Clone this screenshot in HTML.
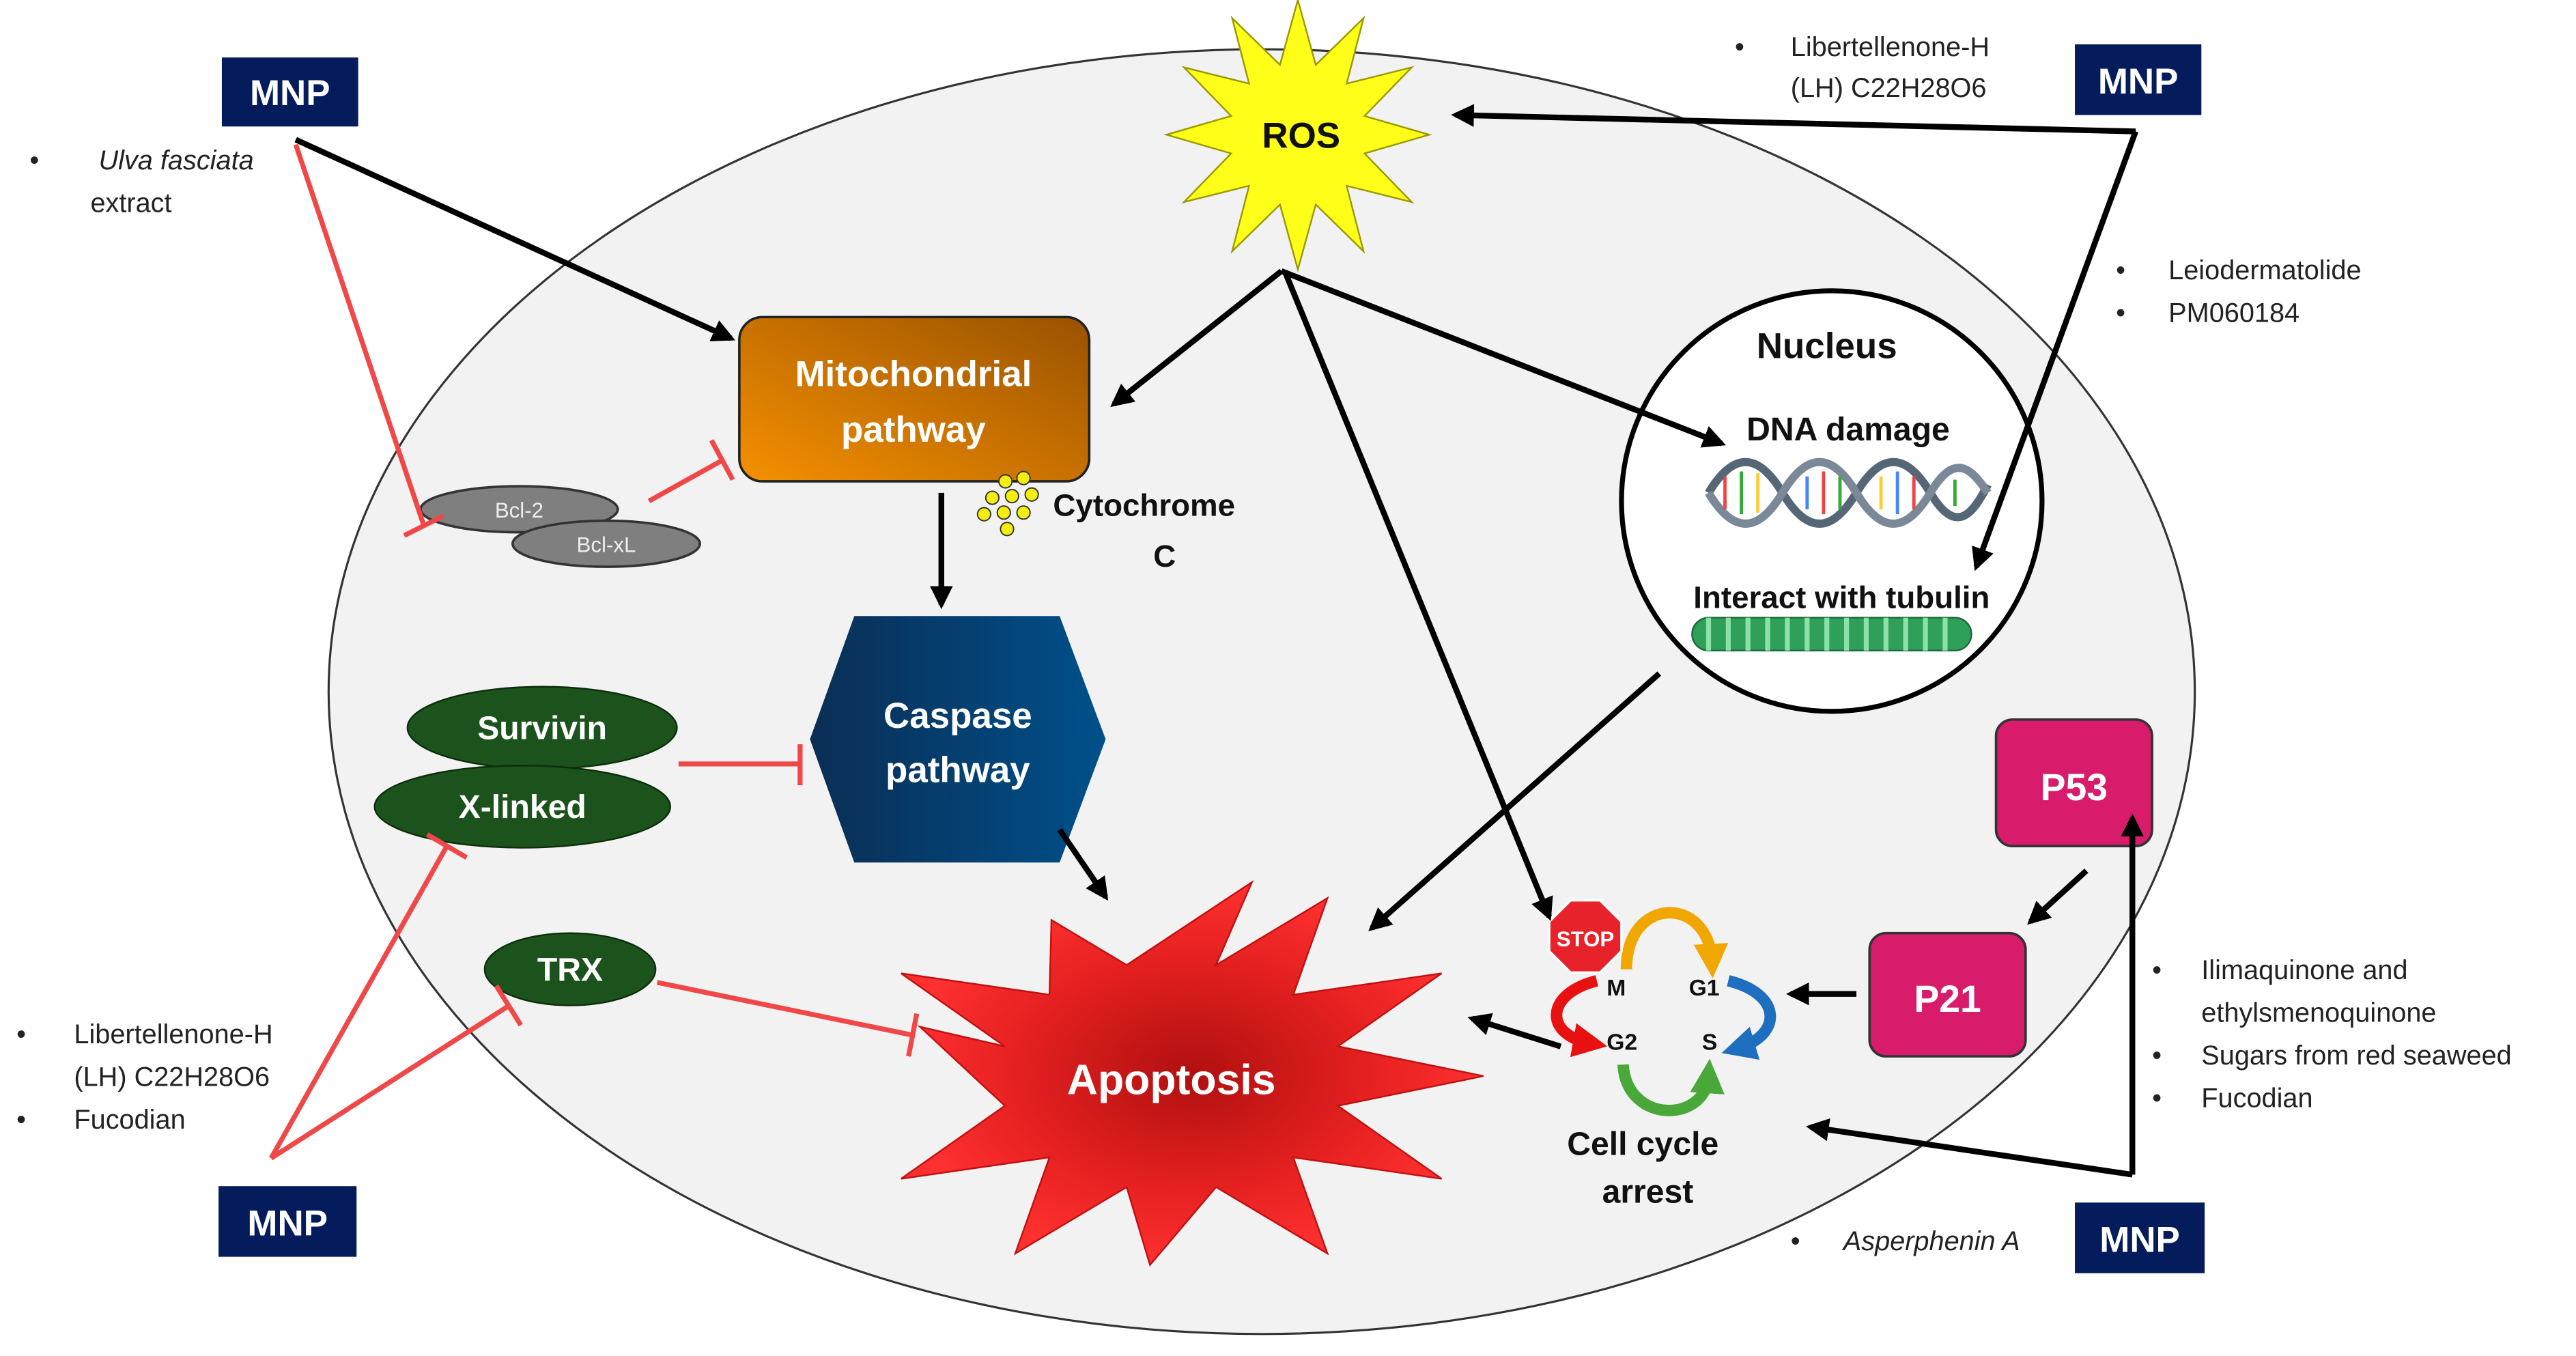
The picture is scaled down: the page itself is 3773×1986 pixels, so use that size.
<!DOCTYPE html>
<html><head><meta charset="utf-8"><style>
html,body{margin:0;padding:0;background:#fff;}
svg{display:block;}
text{font-family:"Liberation Sans",sans-serif;}
</style></head><body>
<svg width="3773" height="1986" viewBox="0 0 1568 825.4" xmlns="http://www.w3.org/2000/svg">
<defs>
<marker id="ah" viewBox="0 0 10 10" refX="8" refY="5" markerWidth="4" markerHeight="4" orient="auto"><path d="M0,0L10,5L0,10z" fill="#000"/></marker>
<marker id="ahO" viewBox="0 0 10 10" refX="5" refY="5" markerWidth="3" markerHeight="3" orient="auto"><path d="M0,0L10,5L0,10z" fill="#f0a800"/></marker>
<marker id="ahB" viewBox="0 0 10 10" refX="5" refY="5" markerWidth="3" markerHeight="3" orient="auto"><path d="M0,0L10,5L0,10z" fill="#1f6fc0"/></marker>
<marker id="ahG" viewBox="0 0 10 10" refX="5" refY="5" markerWidth="3" markerHeight="3" orient="auto"><path d="M0,0L10,5L0,10z" fill="#4aa83a"/></marker>
<marker id="ahR" viewBox="0 0 10 10" refX="5" refY="5" markerWidth="3" markerHeight="3" orient="auto"><path d="M0,0L10,5L0,10z" fill="#e81010"/></marker>
<linearGradient id="mito" x1="0" y1="1" x2="1" y2="0"><stop offset="0" stop-color="#f59000"/><stop offset="1" stop-color="#9a5200"/></linearGradient>
<linearGradient id="casp" x1="0" y1="0" x2="1" y2="0"><stop offset="0" stop-color="#0a2e55"/><stop offset="1" stop-color="#00508a"/></linearGradient>
<radialGradient id="apo" cx="0.5" cy="0.5" r="0.5"><stop offset="0" stop-color="#b01010"/><stop offset="0.6" stop-color="#e52020"/><stop offset="1" stop-color="#ff3030"/></radialGradient>
</defs>

<ellipse cx="768" cy="421" rx="568" ry="391" fill="#f2f2f2" stroke="#333" stroke-width="1.3"/>

<g font-weight="bold" fill="#fff" font-size="22" text-anchor="middle">
<rect x="135" y="35" width="83" height="42" fill="#041c5c"/><text x="176.5" y="64" fill="#fff">MNP</text>
<rect x="1263" y="27" width="77" height="43" fill="#041c5c"/><text x="1301.5" y="57" fill="#fff">MNP</text>
<rect x="133" y="722" width="84" height="43" fill="#041c5c"/><text x="175" y="752" fill="#fff">MNP</text>
<rect x="1263" y="732" width="79" height="43" fill="#041c5c"/><text x="1302.5" y="762" fill="#fff">MNP</text>
</g>

<g font-size="16.5" fill="#222">
<text x="18" y="103">•</text><text x="60" y="103" font-style="italic">Ulva fasciata</text>
<text x="55" y="129">extract</text>
<text x="1056" y="34">•</text><text x="1090" y="34">Libertellenone-H</text>
<text x="1090" y="59">(LH) C22H28O6</text>
<text x="1288" y="170">•</text><text x="1320" y="170">Leiodermatolide</text>
<text x="1288" y="196">•</text><text x="1320" y="196">PM060184</text>
<text x="10" y="635">•</text><text x="45" y="635">Libertellenone-H</text>
<text x="45" y="661">(LH) C22H28O6</text>
<text x="10" y="687">•</text><text x="45" y="687">Fucodian</text>
<text x="1310" y="596">•</text><text x="1340" y="596">Ilimaquinone and</text>
<text x="1340" y="622">ethylsmenoquinone</text>
<text x="1310" y="648">•</text><text x="1340" y="648">Sugars from red seaweed</text>
<text x="1310" y="674">•</text><text x="1340" y="674">Fucodian</text>
<text x="1090" y="761">•</text><text x="1122" y="761" font-style="italic">Asperphenin A</text>
</g>

<ellipse cx="316" cy="310" rx="60" ry="14" fill="#7f7f7f" stroke="#333" stroke-width="1.5"/>
<ellipse cx="369" cy="331" rx="57" ry="14" fill="#7f7f7f" stroke="#333" stroke-width="1.5"/>
<text x="316" y="315" font-size="13" fill="#eee" text-anchor="middle">Bcl-2</text>
<text x="369" y="336" font-size="13" fill="#eee" text-anchor="middle">Bcl-xL</text>

<rect x="450" y="193" width="213" height="100" rx="14" fill="url(#mito)" stroke="#222" stroke-width="1.5"/>
<text x="556" y="235" font-size="22" font-weight="bold" fill="#fff" text-anchor="middle">Mitochondrial</text>
<text x="556" y="269" font-size="22" font-weight="bold" fill="#fff" text-anchor="middle">pathway</text>
<g fill="#f3ee10" stroke="#333" stroke-width="0.8">
<circle cx="612" cy="293" r="4"/><circle cx="623" cy="291" r="4"/><circle cx="604" cy="303" r="4"/><circle cx="616" cy="302" r="4"/><circle cx="628" cy="301" r="4"/><circle cx="599" cy="313" r="4"/><circle cx="611" cy="312" r="4"/><circle cx="623" cy="312" r="4"/><circle cx="613" cy="322" r="4"/>
</g>
<text x="641" y="314" font-size="19" font-weight="bold" fill="#111">Cytochrome</text>
<text x="702" y="345" font-size="19" font-weight="bold" fill="#111">C</text>

<polygon points="520,375 645,375 673,450 645,525 520,525 493,450" fill="url(#casp)"/>
<text x="583" y="443" font-size="22" font-weight="bold" fill="#fff" text-anchor="middle">Caspase</text>
<text x="583" y="476" font-size="22" font-weight="bold" fill="#fff" text-anchor="middle">pathway</text>

<ellipse cx="330" cy="443" rx="82" ry="25" fill="#1c531c" stroke="#0d2e0d" stroke-width="1"/>
<ellipse cx="318" cy="491" rx="90" ry="25" fill="#1c531c" stroke="#0d2e0d" stroke-width="1"/>
<ellipse cx="347" cy="590" rx="52" ry="22" fill="#1c531c" stroke="#0d2e0d" stroke-width="1"/>
<g font-size="20" font-weight="bold" fill="#fff" text-anchor="middle">
<text x="330" y="450" fill="#fff">Survivin</text>
<text x="318" y="498" fill="#fff">X-linked</text>
<text x="347" y="597" fill="#fff">TRX</text>
</g>

<polygon points="903,655 814.4,636.9 877.5,592.5 787.2,605.5 808,546.7 740.2,587.4 762,537 685.8,587.4 640,560 638.8,605.5 548.5,592.5 611.6,636.9 560,625 611.6,673.1 548.5,717.5 638.8,704.5 618,763 685.8,722.6 700,770 740.2,722.6 808,763 787.2,704.5 877.5,717.5 814.4,673.1" fill="url(#apo)" stroke="#c01010" stroke-width="1"/>
<text x="713" y="666" font-size="26" font-weight="bold" fill="#fff" text-anchor="middle">Apoptosis</text>

<polygon points="870,82 830.6,70.6 859.3,41 819.7,50.9 830,11 800.9,39.5 790,0 779.1,39.5 750,11 760.3,50.9 720.7,41 749.4,70.6 710,82 749.4,93.4 720.7,123 760.3,113.1 750,153 779.1,124.5 790,164 800.9,124.5 830,153 819.7,113.1 859.3,123 830.6,93.4" fill="#ffff1a" stroke="#999900" stroke-width="1"/>
<text x="792" y="90" font-size="22" font-weight="bold" fill="#111" text-anchor="middle">ROS</text>

<circle cx="1115" cy="305" r="128" fill="#fff" stroke="#000" stroke-width="3"/>
<text x="1112" y="218" font-size="22" font-weight="bold" fill="#111" text-anchor="middle">Nucleus</text>
<text x="1125" y="268" font-size="20" font-weight="bold" fill="#111" text-anchor="middle">DNA damage</text>
<path d="M1040,300 C1055,275 1070,275 1085,300 S1115,325 1130,300 S1160,275 1175,300 S1200,315 1210,295" stroke="#556677" stroke-width="5" fill="none"/>
<path d="M1040,300 C1055,325 1070,325 1085,300 S1115,275 1130,300 S1160,325 1175,300 S1200,285 1210,300" stroke="#7a8898" stroke-width="5" fill="none"/>
<g stroke-width="2">
<line x1="1050" y1="290" x2="1050" y2="310" stroke="#e44"/><line x1="1060" y1="287" x2="1060" y2="313" stroke="#3a3"/><line x1="1070" y1="288" x2="1070" y2="312" stroke="#fc3"/><line x1="1100" y1="290" x2="1100" y2="310" stroke="#48f"/><line x1="1110" y1="287" x2="1110" y2="313" stroke="#e44"/><line x1="1120" y1="290" x2="1120" y2="310" stroke="#3a3"/><line x1="1145" y1="290" x2="1145" y2="310" stroke="#fc3"/><line x1="1155" y1="287" x2="1155" y2="313" stroke="#48f"/><line x1="1165" y1="290" x2="1165" y2="310" stroke="#e44"/><line x1="1190" y1="292" x2="1190" y2="308" stroke="#3a3"/>
</g>
<text x="1121" y="370" font-size="19" font-weight="bold" fill="#111" text-anchor="middle">Interact with tubulin</text>
<rect x="1030" y="376" width="170" height="20" rx="10" fill="#2ea05a" stroke="#1a6a3a"/>
<path d="M1040,376 v20 M1052,376 v20 M1064,376 v20 M1076,376 v20 M1088,376 v20 M1100,376 v20 M1112,376 v20 M1124,376 v20 M1136,376 v20 M1148,376 v20 M1160,376 v20 M1172,376 v20 M1184,376 v20" stroke="#8ce0a8" stroke-width="3"/>

<rect x="1215" y="438" width="95" height="77" rx="10" fill="#d81b6b" stroke="#333" stroke-width="1.5"/>
<text x="1262.5" y="487" font-size="23" font-weight="bold" fill="#fff" text-anchor="middle">P53</text>
<rect x="1138" y="568" width="95" height="75" rx="10" fill="#d81b6b" stroke="#333" stroke-width="1.5"/>
<text x="1185.5" y="616" font-size="23" font-weight="bold" fill="#fff" text-anchor="middle">P21</text>

<path d="M990,590 C990,545 1040,545 1042,585" stroke="#f0a800" stroke-width="7" fill="none" marker-end="url(#ahO)"/>
<path d="M1052,597 C1085,605 1085,630 1058,638" stroke="#1f6fc0" stroke-width="7" fill="none" marker-end="url(#ahB)"/>
<path d="M988,648 C990,684 1038,684 1040,655" stroke="#4aa83a" stroke-width="7" fill="none" marker-end="url(#ahG)"/>
<path d="M972,597 C940,605 940,630 968,635" stroke="#e81010" stroke-width="7" fill="none" marker-end="url(#ahR)"/>
<polygon points="956,548 974,548 987,561 987,579 974,592 956,592 943,579 943,561" fill="#e8222a" stroke="#fff" stroke-width="1.5"/>
<text x="965" y="576" font-size="13" font-weight="bold" fill="#fff" text-anchor="middle">STOP</text>
<g font-size="14" font-weight="bold" fill="#111">
<text x="978" y="606">M</text><text x="1028" y="606">G1</text><text x="978" y="639">G2</text><text x="1036" y="639">S</text>
</g>
<text x="1000" y="703" font-size="20" font-weight="bold" fill="#111" text-anchor="middle">Cell cycle</text>
<text x="1003" y="732" font-size="20" font-weight="bold" fill="#111" text-anchor="middle">arrest</text>

<g stroke="#000" stroke-width="3.5" fill="none" marker-end="url(#ah)">
<line x1="180" y1="85" x2="445" y2="206"/>
<line x1="573" y1="300" x2="573" y2="368"/>
<line x1="780" y1="165" x2="678" y2="246"/>
<line x1="780" y1="165" x2="1048" y2="270"/>
<line x1="782" y1="165" x2="943" y2="558"/>
<line x1="1010" y1="410" x2="835" y2="565"/>
<line x1="1300" y1="80" x2="886" y2="70"/>
<line x1="1300" y1="80" x2="1203" y2="345"/>
<line x1="645" y1="505" x2="673" y2="546"/>
<line x1="1270" y1="530" x2="1236" y2="561"/>
<line x1="1130" y1="605" x2="1090" y2="605"/>
<line x1="950" y1="637" x2="896" y2="620"/>
<line x1="1298" y1="715" x2="1298" y2="498"/>
<line x1="1298" y1="715" x2="1102" y2="686"/>
</g>

<g stroke="#f04848" stroke-width="3" fill="none">
<line x1="180" y1="88" x2="258" y2="320"/><line x1="246" y1="326" x2="270" y2="314"/>
<line x1="395" y1="305" x2="440" y2="280"/><line x1="433" y1="268" x2="446" y2="292"/>
<line x1="413" y1="465" x2="487" y2="465"/><line x1="487" y1="453" x2="487" y2="478"/>
<line x1="400" y1="598" x2="555" y2="630"/><line x1="558" y1="617" x2="553" y2="643"/>
<line x1="165" y1="705" x2="272" y2="515"/><line x1="260" y1="508" x2="284" y2="522"/>
<line x1="165" y1="705" x2="310" y2="612"/><line x1="302" y1="600" x2="317" y2="624"/>
</g>
</svg>
</body></html>
